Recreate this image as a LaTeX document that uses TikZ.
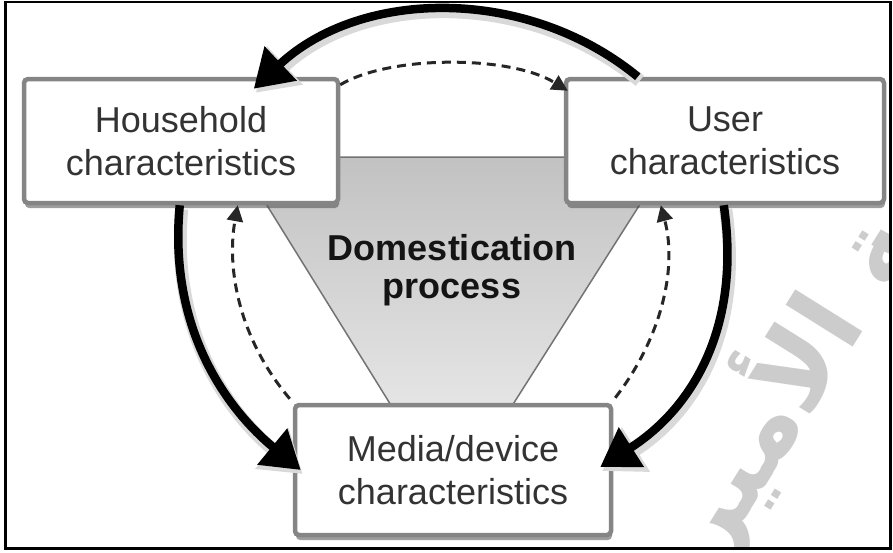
\documentclass[tikz,border=0pt]{standalone}
\usepackage{fontspec}
\setmainfont{Liberation Sans}
\newfontfamily\arabicfont[Script=Arabic]{DejaVu Sans}
\TeXXeTstate=1
\usetikzlibrary{arrows.meta,shadows,calc}
\begin{document}
\begin{tikzpicture}[x=1pt,y=-1pt,
  box/.style={draw=black!48, line width=4.5pt, fill=white, rounded corners=4pt,
    drop shadow={shadow xshift=1pt, shadow yshift=-5pt, opacity=0.55, fill=black!70},
    align=center, inner sep=0pt, font=\fontsize{36}{43}\selectfont, text=black!80},
  bigarrow/.style={line width=8.5pt, black, -{Triangle[length=37pt,width=45pt]}},
  arrowshadow/.style={line width=13pt, black!15, -{Triangle[length=40pt,width=50pt]}},
  dasharrow/.style={line width=3pt, black!85, dash pattern=on 9pt off 6pt,
    -{Triangle[length=16pt,width=16pt]}},
  tri/.style={top color=black!24, bottom color=black!5, draw=black!55, line width=1.5pt},
  wmark/.style={text=black!20, inner sep=0pt, font=\arabicfont\bfseries\fontsize{104}{104}\selectfont}
]
\useasboundingbox (0,0) rectangle (893,552);
% watermark
\begin{scope}
  \clip (7,4) rectangle (889,547);
  \node[wmark, rotate=58, anchor=base west] (wm) at (716,566) {\beginR جامعة الأمير\endR};
\end{scope}
% frame
\draw[line width=2.5pt] (5.5,2) rectangle (890.5,548.5);
% central triangle
\shade[tri] (237,157) -- (670,157) -- (451,502) -- cycle;
% boxes
\node[box, minimum width=314pt, minimum height=124pt] (hh) at (181,141) {Household\\characteristics};
\node[box, minimum width=318pt, minimum height=124pt] (us) at (725,141) {User\\characteristics};
\node[box, minimum width=316pt, minimum height=130pt] (md) at (453,470) {Media/device\\characteristics};
\node[align=center, font=\bfseries\fontsize{36}{38}\selectfont, text=black!92] (dp) at (452,270) {Domestication\\process};
% arrow end points
\coordinate (a0) at ([xshift=74pt]us.north west);
\coordinate (a1) at ([xshift=232pt,yshift=-12pt]hh.north west);
\coordinate (b0) at ([xshift=158pt]hh.south west);
\coordinate (b1) at ([xshift=8pt]md.west);
\coordinate (c0) at ([xshift=160pt]us.south west);
\coordinate (c1) at ([xshift=-13pt,yshift=3pt]md.east);
% soft shadows of solid arrows
\begin{scope}[transform canvas={shift={(2pt,-4pt)}}]
  \draw[arrowshadow] (a0) .. controls (526,-15) and (360,-11) .. (a1);
  \draw[arrowshadow] (b0) .. controls (168,330) and (228,410) .. (b1);
  \draw[arrowshadow] (c0) .. controls (742,330) and (690,410) .. (c1);
\end{scope}
% solid arrows
\draw[bigarrow] (a0) .. controls (526,-15) and (360,-11) .. (a1);
\draw[bigarrow] (b0) .. controls (168,330) and (228,410) .. (b1);
\draw[bigarrow] (c0) .. controls (742,330) and (690,410) .. (c1);
% dashed arrows
\coordinate (d0) at ([yshift=-8pt]hh.north east);
\coordinate (d1) at ([xshift=4pt,yshift=-14pt]us.north west);
\draw[dasharrow] (d0) .. controls (390,55) and (510,55) .. (d1);
\coordinate (e0) at ([xshift=-3pt,yshift=4pt]md.north west);
\coordinate (e1) at ([xshift=216pt]hh.south west);
\draw[dasharrow] (e0) .. controls (240,340) and (226,270) .. (e1);
\coordinate (f0) at ([xshift=2pt,yshift=5pt]md.north east);
\coordinate (f1) at ([xshift=97pt]us.south west);
\draw[dasharrow] (f0) .. controls (660,340) and (678,270) .. (f1);
\end{tikzpicture}
\end{document}
